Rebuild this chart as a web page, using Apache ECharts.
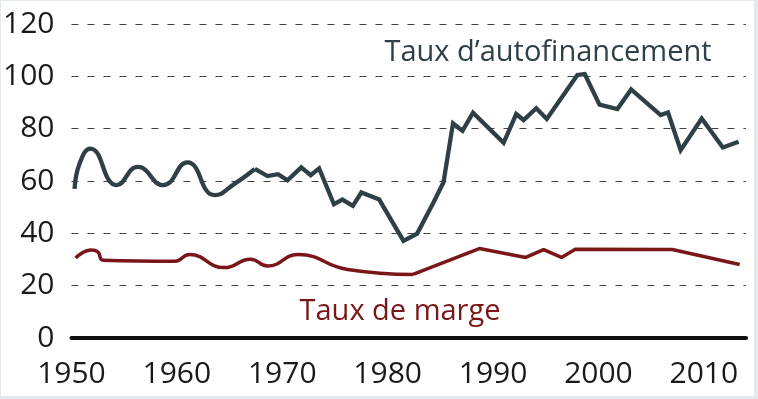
<!DOCTYPE html>
<html>
<head>
<meta charset="utf-8">
<script src="https://cdn.jsdelivr.net/npm/echarts@6/dist/echarts.min.js"></script>
<style>
  html, body { margin: 0; padding: 0; background: #e4e9ec; }
  #wrap { position: absolute; left: 1px; top: 1px; width: 753px; height: 395px; background: #fff; }
  #chart { position: absolute; left: -1px; top: -1px; width: 758px; height: 399px; }
</style>
</head>
<body>
<div id="wrap"><div id="chart"></div></div>
<script>
// Taux d'autofinancement : partie lissée (1950-1967) puis annuelle
const autofinSmooth = [
  [1950.3, 57], [1950.8, 67], [1951.8, 72.4], [1954.3, 58.4],
  [1956.3, 65.4], [1958.7, 58.4], [1961.0, 67.1], [1963.6, 54.6],
  [1965.5, 59], [1967.4, 64.6]
]
const autofinLine = [
  [1967.4, 64.6], [1968.6, 61.9], [1969.6, 62.6], [1970.5, 60.3], [1971.8, 65.2],
  [1972.7, 62.2], [1973.5, 64.8], [1974.9, 51.1], [1975.7, 52.9], [1976.7, 50.5],
  [1977.5, 55.6], [1979.2, 52.9], [1981.5, 37.1], [1982.8, 39.9], [1984.3, 51.4],
  [1985.3, 59.5], [1986.2, 82.0], [1987.1, 79.2], [1988.1, 86.1], [1991.0, 74.6],
  [1992.2, 85.6], [1992.9, 83.3], [1994.1, 87.8], [1995.1, 83.7], [1998.0, 100.5],
  [1998.7, 100.9], [2000.1, 89.2], [2001.8, 87.5], [2003.1, 95.0], [2005.9, 85.2],
  [2006.6, 86.2], [2007.8, 71.8], [2009.8, 83.9], [2011.8, 72.8], [2013.3, 75.0]
]
// Taux de marge
const margeSmooth = [
  [1950.4, 30.6], [1951.9, 33.6], [1952.5, 32.9], [1953.0, 29.7], [1959.8, 29.3],
  [1961.2, 31.9], [1964.5, 26.9], [1967.0, 30.1], [1968.6, 27.5], [1971.5, 31.9],
  [1976.2, 26.2], [1982.4, 24.3]
]
const margeLine = [
  [1982.4, 24.3], [1988.7, 34.2], [1993.1, 30.8], [1994.8, 33.8], [1996.5, 30.8],
  [1997.8, 33.9], [2007.0, 33.8], [2013.4, 28.1]
]
const yTicks = [0, 20, 40, 60, 80, 100, 120]

const darkColor = '#2f3f46'
const redColor = '#7a1618'
const font = '"Open Sans", "Noto Sans", sans-serif'

let myCharts = echarts.init(document.getElementById('chart'))
myCharts.setOption({
  animation: false,
  grid: {
    left: 70,
    right: 12,
    top: 24,
    bottom: 61,
  },
  xAxis: {
    type: 'value',
    min: 1950,
    max: 2014,
    interval: 10,
    axisLine: {
      show: true,
      onZero: false,
      lineStyle: { color: '#111', width: 4 },
    },
    axisTick: { show: false },
    splitLine: { show: false },
    axisLabel: {
      showMaxLabel: false,
      formatter: (v) => String(v),
      color: '#1a1a1a',
      fontFamily: font,
      fontSize: 30,
      margin: 21,
    },
  },
  yAxis: {
    type: 'value',
    min: yTicks[0],
    max: yTicks[yTicks.length - 1],
    interval: 20,
    axisLine: { show: false },
    axisTick: { show: false },
    splitLine: {
      show: true,
      lineStyle: { color: '#444', width: 1.2, type: [7, 9] },
    },
    axisLabel: {
      color: '#1a1a1a',
      fontFamily: font,
      fontSize: 30,
      margin: 17,
    },
  },
  graphic: [
    {
      type: 'text',
      x: 548,
      y: 53,
      style: {
        text: 'Taux d\u2019autofinancement',
        fill: darkColor,
        font: '29px ' + font,
        textAlign: 'center',
        textVerticalAlign: 'middle',
      },
    },
    {
      type: 'text',
      x: 400,
      y: 312,
      style: {
        text: 'Taux de marge',
        fill: redColor,
        font: '29px ' + font,
        textAlign: 'center',
        textVerticalAlign: 'middle',
      },
    },
  ],
  series: [
    {
      type: 'line',
      data: autofinSmooth,
      smooth: 0.5,
      showSymbol: false,
      lineStyle: { color: darkColor, width: 4.3 },
    },
    {
      type: 'line',
      data: autofinLine,
      showSymbol: false,
      lineStyle: { color: darkColor, width: 4.3, join: 'miter' },
    },
    {
      type: 'line',
      data: margeSmooth,
      smooth: 0.5,
      showSymbol: false,
      lineStyle: { color: redColor, width: 3.5 },
    },
    {
      type: 'line',
      data: margeLine,
      showSymbol: false,
      lineStyle: { color: redColor, width: 3.5 },
    },
  ],
})
</script>
</body>
</html>
